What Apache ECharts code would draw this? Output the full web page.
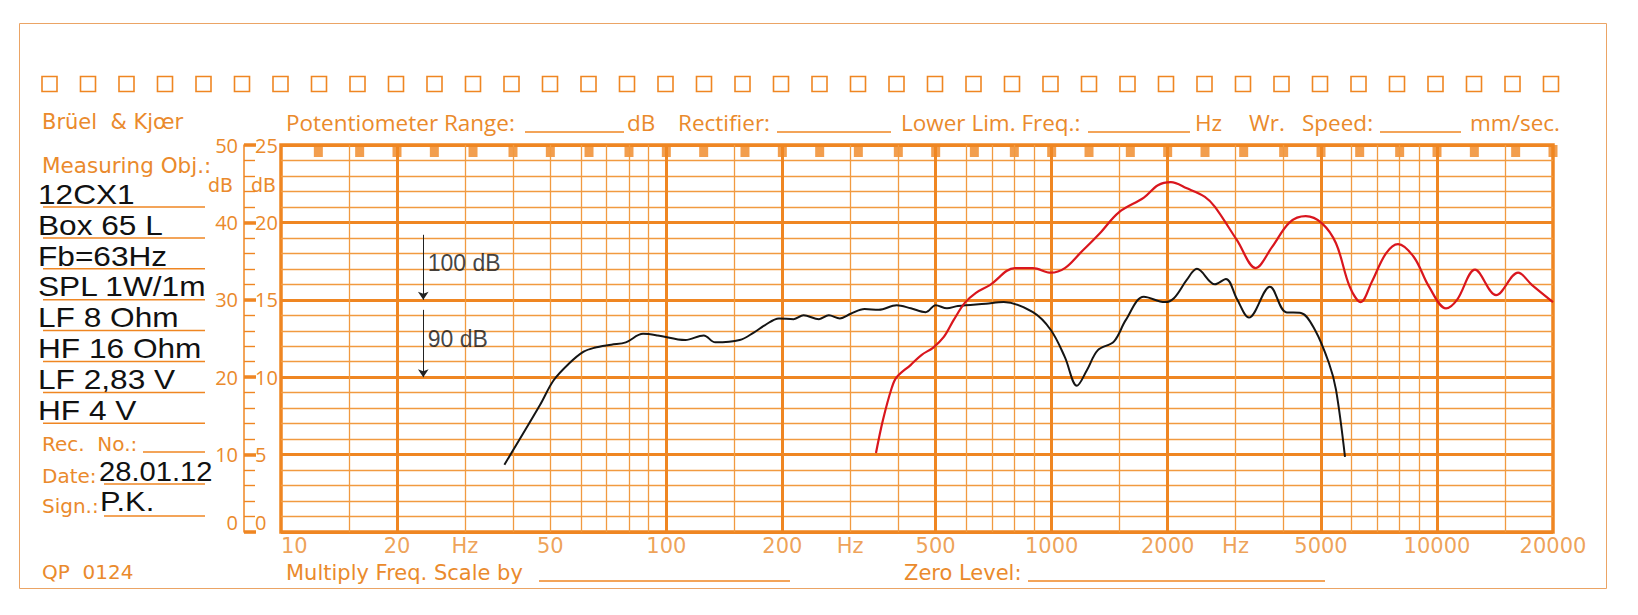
<!DOCTYPE html>
<html>
<head>
<meta charset="utf-8">
<title>12CX1 frequency response</title>
<script src="https://cdn.jsdelivr.net/npm/echarts@6/dist/echarts.min.js"></script>
<style>
html, body { margin: 0; padding: 0; background: #fff; }
#chart { width: 1638px; height: 615px; }
</style>
</head>
<body>
<div id="chart"></div>
<script>
// LF response (black) : Hz / level on the 0..50 dB paper scale
var lfFreq = [38, 47, 51, 56, 61, 65, 72, 78.5, 87, 95, 112, 125, 134, 155, 169, 180, 196, 214, 227, 249, 264, 282, 301, 327, 356, 396, 431, 471, 500, 535, 571, 675, 751, 894, 995, 1082, 1163, 1234, 1318, 1450, 1558, 1735, 1967, 2076, 2244, 2382, 2653, 2833, 3026, 3251, 3685, 4055, 4436, 4824, 5245, 5468, 5771];
var lfLevel = [8.7, 16.4, 19.6, 21.8, 23.3, 23.8, 24.2, 24.5, 25.6, 25.4, 24.8, 25.4, 24.5, 24.8, 25.8, 26.7, 27.6, 27.5, 28.0, 27.5, 28.0, 27.6, 28.2, 28.8, 28.7, 29.3, 28.9, 28.4, 29.3, 28.9, 29.2, 29.5, 29.7, 28.4, 26.1, 22.6, 18.9, 20.9, 23.5, 24.6, 27.4, 30.4, 29.7, 30.2, 32.6, 34.0, 32.0, 32.7, 30.1, 27.7, 31.7, 28.4, 28.3, 26.1, 21.8, 18.4, 9.7];

// HF response (red)
var hfFreq = [350, 365, 385, 396, 431, 460, 492, 525, 557, 595, 636, 691, 803, 894, 995, 1082, 1184, 1334, 1494, 1735, 1887, 2039, 2244, 2498, 2653, 3026, 3385, 3730, 4147, 4565, 5022, 5468, 5936, 6342, 6772, 7373, 7922, 8715, 9533, 10554, 11270, 12551, 14234, 16234, 17650, 20000];
var hfLevel = [10.2, 14.5, 18.7, 20.0, 21.6, 22.9, 23.8, 25.2, 27.4, 29.6, 30.9, 31.9, 34.1, 34.1, 33.5, 34.1, 36.0, 38.6, 41.3, 43.2, 44.8, 45.2, 44.4, 43.3, 42.0, 37.7, 34.1, 36.8, 40.0, 40.8, 39.9, 37.3, 31.7, 29.7, 32.3, 36.0, 37.2, 35.5, 31.7, 28.9, 30.0, 33.9, 30.6, 33.5, 31.9, 29.7];

var xTickFreq = [10, 20, 30, 50, 100, 200, 300, 500, 1000, 2000, 3000, 5000, 10000, 20000];
var xTickText = ['10', '20', 'Hz', '50', '100', '200', 'Hz', '500', '1000', '2000', 'Hz', '5000', '10000', '20000'];
var majorFreq = [20, 100, 200, 500, 1000, 2000, 5000, 10000];
var minorFreq = [15, 30, 40, 50, 60, 70, 80, 90, 150, 300, 400, 600, 700, 800, 900, 1500, 3000, 4000, 6000, 7000, 8000, 9000, 15000];
var tabFreq = [12.5, 16, 20, 25, 31.5, 40, 50, 63, 80, 100, 125, 160, 200, 250, 315, 400, 500, 630, 800, 1000, 1250, 1600, 2000, 2500, 3150, 4000, 5000, 6300, 8000, 10000, 12500, 16000, 20000];

var infoLines = ['12CX1', 'Box 65 L', 'Fb=63Hz', 'SPL 1W/1m', 'LF 8 Ohm', 'HF 16 Ohm', 'LF 2,83 V', 'HF 4 V'];
var recDate = '28.01.12';
var recSign = 'P.K.';

// level arrows: 100 dB and 90 dB reference
var arrowFreq = 23.4;
var arrowText = ['100 dB', '90 dB'];
var arrowFrom = [38.4, 28.7];
var arrowTo = [30, 20];
var arrowTextLevel = [34.8, 25];

var ORANGE = '#EF8622';
var ORANGE_TXT = '#EA8A2C';
var THIN = '#F19A40';
var FORM_FONT = '"Open Sans", "DejaVu Sans", sans-serif';
var WIDE_FONT = '"DejaVu Sans", sans-serif';
var BLACK_FONT = '"Liberation Sans", Arial, sans-serif';

var graphic = [];

function addText(str, x, y, size, color, family, sx) {
	graphic.push({
		type: 'text', x: x, y: y, scaleX: sx || 1,
		style: { text: str, fill: color, font: size + 'px ' + family, verticalAlign: 'middle' }
	});
}
function addLine(x1, y1, x2, y2, w, color) {
	graphic.push({
		type: 'line', shape: { x1: x1, y1: y1, x2: x2, y2: y2 },
		style: { stroke: color || ORANGE, lineWidth: w || 1.5 }
	});
}
function $each(arr, fn) { for (var i = 0; i < arr.length; i++) fn(arr[i], i); }
function zip(xs, ys) { return xs.map(function (x, i) { return [x, ys[i]]; }); }

function buildForm() {
	//外框
	graphic.push({ type: 'rect', shape: { x: 19.5, y: 23.5, width: 1587, height: 565 }, style: { fill: 'none', stroke: '#EBA465', lineWidth: 1 } });
	//打孔方格
	for (var i = 0; i < 40; i++) {
		graphic.push({ type: 'rect', shape: { x: 42 + i * 38.5, y: 76.5, width: 15, height: 15 }, style: { fill: 'none', stroke: ORANGE, lineWidth: 1.6 } });
	}
	addText('Brüel  & Kjœr', 42, 122, 21, ORANGE_TXT, WIDE_FONT);

	var head = [['Potentiometer Range:', 286], ['dB', 627], ['Rectifier:', 678], ['Lower Lim. Freq.:', 901], ['Hz', 1195], ['Wr.', 1249], ['Speed:', 1302], ['mm/sec.', 1470]];
	$each(head, function (h) { addText(h[0], h[1], 122, 22.5, ORANGE_TXT, FORM_FONT); });
	addLine(525, 132, 624, 132);
	addLine(777, 132, 891, 132);
	addLine(1088, 132, 1190, 132);
	addLine(1380, 132, 1461, 132);

	addText('Measuring Obj.:', 42, 165.5, 21.5, ORANGE_TXT, WIDE_FONT);
	$each(infoLines, function (s, i) {
		var uy = 207 + i * 30.9;
		addText(s, 38, uy - 13, 27.5, '#111', BLACK_FONT, 1.15);
		addLine(43, uy, 205, uy);
	});

	addText('Rec.  No.:', 42, 444, 20, ORANGE_TXT, WIDE_FONT);
	addLine(143, 452, 205, 452);
	addText('Date:', 42, 476, 20, ORANGE_TXT, WIDE_FONT);
	addText(recDate, 99, 471, 27.5, '#111', BLACK_FONT, 1.06);
	addLine(104, 484, 205, 484);
	addText('Sign.:', 42, 506, 20, ORANGE_TXT, WIDE_FONT);
	addText(recSign, 100, 502, 27.5, '#111', BLACK_FONT, 1.12);
	addLine(104, 516, 205, 516);
	addText('QP  0124', 42, 572, 20, ORANGE_TXT, WIDE_FONT);

	addText('dB', 208, 185, 19, ORANGE_TXT, WIDE_FONT);
	addText('dB', 251, 185, 19, ORANGE_TXT, WIDE_FONT);

	addText('Multiply Freq. Scale by', 286, 573, 21, ORANGE_TXT, WIDE_FONT);
	addLine(539, 581, 790, 581);
	addText('Zero Level:', 904, 573, 21, ORANGE_TXT, WIDE_FONT);
	addLine(1028, 581, 1325, 581);
}

function getChart() {
	buildForm();
	var chart = echarts.init(document.getElementById('chart'), null, { renderer: 'svg' });

	var gridLines = [];
	$each(minorFreq, function (f) { gridLines.push({ xAxis: f, lineStyle: { color: THIN, width: 1.3, type: 'solid' } }); });
	$each(majorFreq, function (f) { gridLines.push({ xAxis: f, lineStyle: { color: ORANGE, width: 3, type: 'solid' } }); });

	var yCommon = { type: 'value', min: 0, max: 50, position: 'left', offset: 37 };

	var option = {
		animation: false,
		backgroundColor: '#fff',
		graphic: graphic,
		grid: { left: 281, top: 145, width: 1272, height: 387, show: true, borderColor: ORANGE, borderWidth: 3.5, outerBoundsMode: 'none' },
		xAxis: {
			type: 'log', logBase: 10, min: 10, max: 20000,
			axisLine: { show: false }, axisTick: { show: false }, axisLabel: { show: false }, splitLine: { show: false }
		},
		yAxis: [
			echarts.util.merge({
				interval: 2,
				axisLine: { show: true, lineStyle: { color: ORANGE, width: 1.5 } },
				axisTick: { show: true, inside: true, length: 11, lineStyle: { color: ORANGE, width: 1.4 } },
				axisLabel: { show: false },
				splitLine: { show: true, lineStyle: { color: THIN, width: 1.3 } }
			}, yCommon),
			echarts.util.merge({
				interval: 10,
				axisLine: { show: false },
				axisTick: { show: true, inside: true, length: 12, lineStyle: { color: ORANGE, width: 3.5 } },
				axisLabel: { show: true, margin: 6, color: ORANGE_TXT, fontSize: 20, fontFamily: FORM_FONT, verticalAlignMinLabel: 'bottom' },
				splitLine: { show: true, lineStyle: { color: ORANGE, width: 3 } }
			}, yCommon),
			echarts.util.merge({
				interval: 10,
				axisLine: { show: false }, axisTick: { show: false }, splitLine: { show: false },
				axisLabel: {
					show: true, inside: true, margin: 11, color: ORANGE_TXT, fontSize: 20, fontFamily: FORM_FONT, verticalAlignMinLabel: 'bottom',
					formatter: function (v) { return v / 2; }
				}
			}, yCommon)
		],
		series: [
			{
				// top edge tabs + frequency grid lines
				type: 'scatter', z: 3, clip: false, silent: true,
				symbol: 'rect', symbolSize: [9, 12], symbolOffset: [0, 6],
				itemStyle: { color: ORANGE },
				data: tabFreq.map(function (f) { return [f, 50]; }),
				markLine: { silent: true, symbol: 'none', label: { show: false }, animation: false, data: gridLines }
			},
			{
				type: 'scatter', z: 4, clip: false, silent: true, symbolSize: 1,
				itemStyle: { color: 'rgba(0,0,0,0)' },
				label: { show: true, position: 'bottom', distance: 3, color: ORANGE_TXT, fontSize: 21, fontFamily: WIDE_FONT },
				data: xTickFreq.map(function (f, i) {
					return { value: [f, 0], label: { formatter: xTickText[i], align: i === 0 ? 'left' : 'center' } };
				})
			},
			{
				type: 'scatter', z: 6, clip: false, silent: true, symbolSize: 1,
				itemStyle: { color: 'rgba(0,0,0,0)' },
				label: { show: true, position: 'right', distance: 4, color: '#111', fontSize: 23, fontFamily: BLACK_FONT },
				data: arrowText.map(function (t, i) {
					return { value: [arrowFreq, arrowTextLevel[i]], label: { formatter: t } };
				}),
				markLine: {
					silent: true, symbol: ['none', 'arrow'], symbolSize: 8, label: { show: false },
					lineStyle: { color: '#222', width: 1, type: 'solid' },
					itemStyle: { color: '#222' },
					data: arrowText.map(function (t, i) {
						return [{ coord: [arrowFreq, arrowFrom[i]] }, { coord: [arrowFreq, arrowTo[i]] }];
					})
				}
			},
			{
				name: 'LF', type: 'line', z: 10, smooth: 0.35, symbol: 'none',
				lineStyle: { color: '#151515', width: 2 },
				data: zip(lfFreq, lfLevel)
			},
			{
				name: 'HF', type: 'line', z: 11, smooth: 0.35, symbol: 'none',
				lineStyle: { color: '#D9161E', width: 2.2 },
				data: zip(hfFreq, hfLevel)
			}
		]
	};
	chart.setOption(option);
}

getChart();
</script>
</body>
</html>
